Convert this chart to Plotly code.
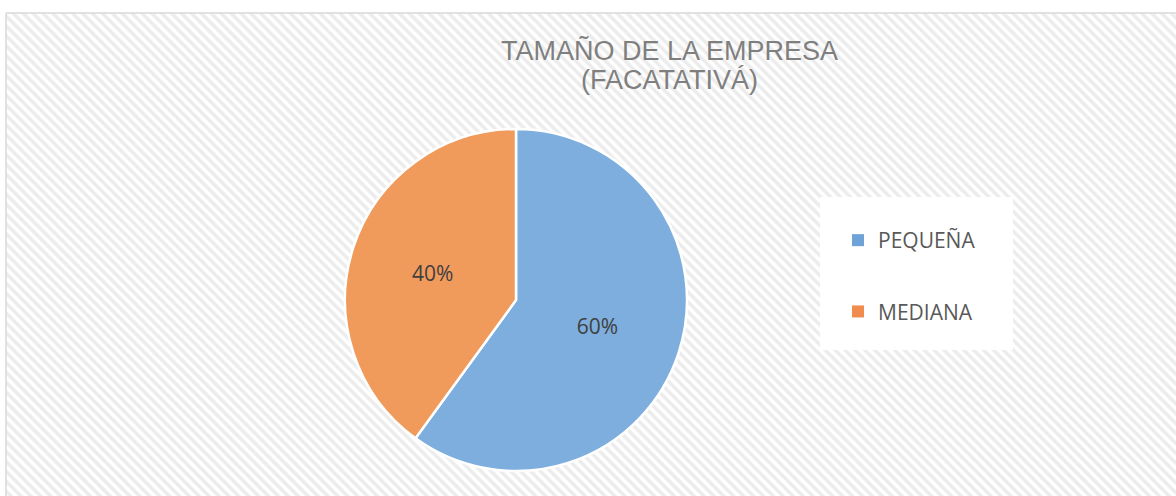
import plotly.graph_objects as go

W, H = 1176, 496

categories = ["PEQUEÑA", "MEDIANA"]
values = [60, 40]
colors = ["#7DAEDD", "#F09A5C"]
legend_colors = ["#6FA3D8", "#F08C4E"]
title_line1 = "TAMAÑO DE LA EMPRESA"
title_line2 = "(FACATATIVÁ)"

fig = go.Figure()

# hatched chart-area background
fig.add_trace(go.Scatter(
    x=[6, W + 5, W + 5, 6, 6], y=[13, 13, H + 5, H + 5, 13],
    mode="lines", fill="toself", line=dict(color="#d9d9d9", width=1.5),
    fillcolor="white",
    fillpattern=dict(shape="\\", fgcolor="#d9d9d9", bgcolor="white", size=7, solidity=0.5),
    hoverinfo="skip", showlegend=False, xaxis="x", yaxis="y"))

# legend entries (dummy markers)
for name, c in zip(categories, legend_colors):
    fig.add_trace(go.Scatter(
        x=[None], y=[None], mode="markers", name=name, legendgroup=name,
        marker=dict(symbol="square", size=8, color=c),
        xaxis="x", yaxis="y"))

cx, cy, r = 516, 300, 171
fig.add_trace(go.Pie(
    labels=categories, values=values, sort=False, direction="clockwise", rotation=0,
    marker=dict(colors=colors, line=dict(color="white", width=2.5)),
    texttemplate="%{percent:.0%}", textposition="inside", insidetextorientation="horizontal",
    textfont=dict(family="Open Sans", size=21, color="#404040"),
    domain=dict(x=[(cx - r) / W, (cx + r) / W], y=[1 - (cy + r) / H, 1 - (cy - r) / H]),
    showlegend=False, hoverinfo="label+percent"))

title_font = dict(family="Liberation Sans, Arial", size=27, color="#7f7f7f")
fig.update_layout(
    width=W, height=H, margin=dict(l=0, r=0, t=0, b=0),
    paper_bgcolor="white", plot_bgcolor="white",
    xaxis=dict(range=[0, W], visible=False, fixedrange=True, domain=[0, 1]),
    yaxis=dict(range=[H, 0], visible=False, fixedrange=True, domain=[0, 1]),
    annotations=[
        dict(text=title_line1, x=669, y=50, xref="x", yref="y", xanchor="center",
             yanchor="middle", showarrow=False, font=title_font),
        dict(text=title_line2, x=669, y=80, xref="x", yref="y", xanchor="center",
             yanchor="middle", showarrow=False, font=title_font),
    ],
    legend=dict(x=838 / W, y=1 - 220 / H, xanchor="left", yanchor="top",
                bgcolor="rgba(0,0,0,0)", tracegroupgap=41,
                font=dict(family="Open Sans", size=21, color="#595959"),
                itemsizing="constant"),
    shapes=[dict(type="rect", xref="x", yref="y", x0=820, x1=1013, y0=197, y1=350,
                 fillcolor="white", line=dict(width=0), layer="above")],
)

fig.write_html("out.html", post_script="document.body.style.margin='0';",
               config={"displayModeBar": False})
